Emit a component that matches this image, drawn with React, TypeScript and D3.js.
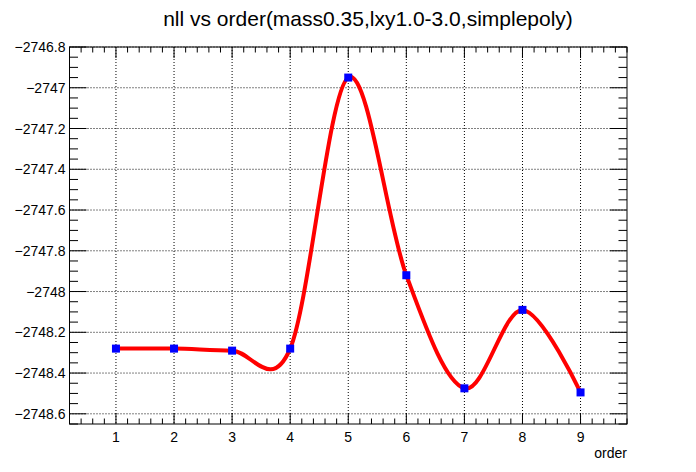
import React from "react";
import * as d3 from "d3";

const orders = [1, 2, 3, 4, 5, 6, 7, 8, 9];
const nll = [-2748.28, -2748.28, -2748.29, -2748.28, -2746.95, -2747.92, -2748.475, -2748.09, -2748.495];
const yTicks = [-2746.8, -2747, -2747.2, -2747.4, -2747.6, -2747.8, -2748, -2748.2, -2748.4, -2748.6];
const xTicks = [1, 2, 3, 4, 5, 6, 7, 8, 9];

export default function App() {
  const L = 69.5, R = 627, T = 47, B = 424;
  const x = d3.scaleLinear().domain([0.2, 9.8]).range([L, R]);
  const y = d3.scaleLinear().domain([-2748.65, -2746.8]).range([B, T]);
  const pts: [number, number][] = orders.map((o, i) => [x(o), y(nll[i])]);
  const line = d3.line().curve(d3.curveCardinal.tension(0))(pts) || "";
  const yMinor = d3.range(-2748.65, -2746.79, 0.05);
  const xMinor = d3.range(0.2, 9.81, 0.2);
  const font = "Liberation Sans, Arial, sans-serif";
  return (
    <svg width={696} height={472} style={{ position: "absolute", left: 0, top: 0 }}>
      <rect width={696} height={472} fill="white" />
      <text x={368} y={26} textAnchor="middle" fontFamily={font} fontSize={21}>nll vs order(mass0.35,lxy1.0-3.0,simplepoly)</text>
      {xTicks.map(t => <line key={"gx" + t} x1={x(t)} x2={x(t)} y1={T} y2={B} stroke="black" strokeDasharray="1,2" strokeWidth={1} />)}
      {yTicks.map(t => <line key={"gy" + t} x1={L} x2={R} y1={y(t)} y2={y(t)} stroke="black" strokeDasharray="1,2" strokeWidth={1} />)}
      {xMinor.map((t, i) => {
        const major = xTicks.some(m => Math.abs(m - t) < 1e-6);
        const len = major ? 11 : 5.5;
        return <g key={"xt" + i}>
          <line x1={x(t)} x2={x(t)} y1={B} y2={B - len} stroke="black" />
          <line x1={x(t)} x2={x(t)} y1={T} y2={T + len} stroke="black" />
        </g>;
      })}
      {yMinor.map((t, i) => {
        const major = yTicks.some(m => Math.abs(m - t) < 1e-6);
        const len = major ? 17 : 8.5;
        return <g key={"yt" + i}>
          <line x1={L} x2={L + len} y1={y(t)} y2={y(t)} stroke="black" />
          <line x1={R} x2={R - len} y1={y(t)} y2={y(t)} stroke="black" />
        </g>;
      })}
      <rect x={L} y={T} width={R - L} height={B - T} fill="none" stroke="black" strokeWidth={1} />
      {xTicks.map(t => <text key={"xl" + t} x={x(t)} y={442} textAnchor="middle" fontFamily={font} fontSize={14}>{t}</text>)}
      {yTicks.map(t => <text key={"yl" + t} x={L - 4} y={y(t) + 5} textAnchor="end" fontFamily={font} fontSize={14}>{String(t).replace("-", "\u2212")}</text>)}
      <text x={R} y={458} textAnchor="end" fontFamily={font} fontSize={14}>order</text>
      <path d={line} fill="none" stroke="#ff0000" strokeWidth={4} />
      {pts.map((p, i) => <rect key={"m" + i} x={p[0] - 4} y={p[1] - 4} width={8} height={8} fill="#0000ff" />)}
    </svg>
  );
}
